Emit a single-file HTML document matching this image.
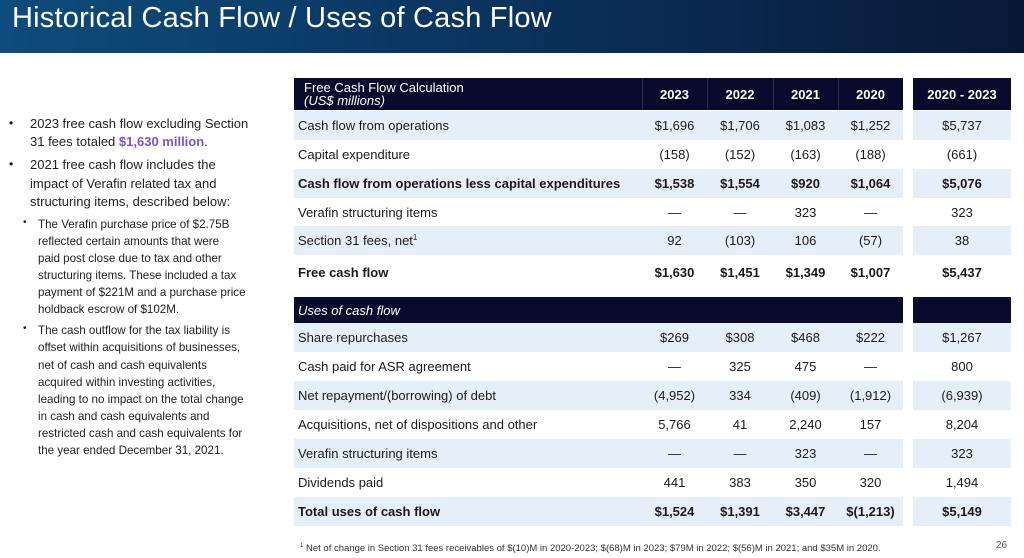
<!DOCTYPE html>
<html><head><meta charset="utf-8">
<style>
*{margin:0;padding:0;box-sizing:border-box}
body{width:1024px;height:558px;position:relative;background:#fff;font-family:"Liberation Sans",sans-serif;color:#1a1a1a;overflow:hidden}
.hdr{position:absolute;left:0;top:0;width:1024px;height:53px;background:linear-gradient(90deg,#0d4c7c 0%,#0a3560 45%,#0a1838 100%)}
.hdr h1{position:absolute;left:12px;top:2px;font-weight:normal;font-size:29px;color:#fff;letter-spacing:0.2px}
.l1,.l2{position:absolute;white-space:nowrap;color:#222}
.l1{left:30px;font-size:13px}
.l2{left:38px;font-size:11.6px}
.dot{position:absolute;font-size:12px}
.row{position:absolute;left:294px;width:717px;height:29px;font-size:13px}
.row .bg1{position:absolute;left:0;top:0;width:609px;height:100%}
.row .bg2{position:absolute;left:619px;top:0;width:98px;height:100%}
.sh .bg1,.sh .bg2{background:#e5effa}
.dk .bg1,.dk .bg2{background:#0a0b2c}
.c{position:absolute;top:0;height:100%;display:flex;align-items:center;justify-content:center;white-space:nowrap}
.lab{left:4px;justify-content:flex-start}
.b{font-weight:bold}
.v0{left:348px;width:65px}.v1{left:413px;width:66px}.v2{left:479px;width:65px}.v3{left:544px;width:65px}.v4{left:619px;width:98px}
.dk .c{color:#fff}
.sep{position:absolute;top:0;width:1px;height:100%;background:#2a2c50}
</style></head><body>
<div class="hdr"><h1>Historical Cash Flow / Uses of Cash Flow</h1></div>

<div>
<span class="dot" style="left:9px;top:116px">•</span>
<div class="l1" style="top:116px">2023 free cash flow excluding Section</div>
<div class="l1" style="top:134px">31 fees totaled <b style="color:#7b52e0">$1,630 million</b>.</div>
<span class="dot" style="left:9px;top:157px">•</span>
<div class="l1" style="top:157px">2021 free cash flow includes the</div>
<div class="l1" style="top:176px">impact of Verafin related tax and</div>
<div class="l1" style="top:194px">structuring items, described below:</div>
<span class="dot" style="left:23px;top:217px;font-size:10px">•</span>
<div class="l2" style="top:218px">The Verafin purchase price of $2.75B</div>
<div class="l2" style="top:235px">reflected certain amounts that were</div>
<div class="l2" style="top:252px">paid post close due to tax and other</div>
<div class="l2" style="top:269px">structuring items. These included a tax</div>
<div class="l2" style="top:286px">payment of $221M and a purchase price</div>
<div class="l2" style="top:303px">holdback escrow of $102M.</div>
<span class="dot" style="left:23px;top:323px;font-size:10px">•</span>
<div class="l2" style="top:324px">The cash outflow for the tax liability is</div>
<div class="l2" style="top:341px">offset within acquisitions of businesses,</div>
<div class="l2" style="top:359px">net of cash and cash equivalents</div>
<div class="l2" style="top:376px">acquired within investing activities,</div>
<div class="l2" style="top:393px">leading to no impact on the total change</div>
<div class="l2" style="top:410px">in cash and cash equivalents and</div>
<div class="l2" style="top:427px">restricted cash and cash equivalents for</div>
<div class="l2" style="top:444px">the year ended December 31, 2021.</div>
</div>

<div class="row dk" style="top:78px;height:32px"><div class="bg1"></div><div class="bg2"></div>
<div class="sep" style="left:348px"></div><div class="sep" style="left:413px"></div><div class="sep" style="left:479px"></div><div class="sep" style="left:544px"></div>
<div class="c lab" style="flex-direction:column;align-items:flex-start;justify-content:center;line-height:13px;left:10px">Free Cash Flow Calculation<i>(US$ millions)</i></div>
<div class="c v0 b">2023</div><div class="c v1 b">2022</div><div class="c v2 b">2021</div><div class="c v3 b">2020</div><div class="c v4 b">2020 - 2023</div></div>

<div class="row sh" style="top:111px"><div class="bg1"></div><div class="bg2"></div><div class="c lab">Cash flow from operations</div><div class="c v0">$1,696</div><div class="c v1">$1,706</div><div class="c v2">$1,083</div><div class="c v3">$1,252</div><div class="c v4">$5,737</div></div>
<div class="row" style="top:140px"><div class="c lab">Capital expenditure</div><div class="c v0">(158)</div><div class="c v1">(152)</div><div class="c v2">(163)</div><div class="c v3">(188)</div><div class="c v4">(661)</div></div>
<div class="row sh b" style="top:169px"><div class="bg1"></div><div class="bg2"></div><div class="c lab">Cash flow from operations less capital expenditures</div><div class="c v0">$1,538</div><div class="c v1">$1,554</div><div class="c v2">$920</div><div class="c v3">$1,064</div><div class="c v4">$5,076</div></div>
<div class="row" style="top:198px"><div class="c lab">Verafin structuring items</div><div class="c v0">—</div><div class="c v1">—</div><div class="c v2">323</div><div class="c v3">—</div><div class="c v4">323</div></div>
<div class="row sh" style="top:226px"><div class="bg1"></div><div class="bg2"></div><div class="c lab">Section 31 fees, net<sup style="font-size:8px;margin-top:-6px">1</sup></div><div class="c v0">92</div><div class="c v1">(103)</div><div class="c v2">106</div><div class="c v3">(57)</div><div class="c v4">38</div></div>
<div class="row b" style="top:257px;height:31px"><div class="c lab">Free cash flow</div><div class="c v0">$1,630</div><div class="c v1">$1,451</div><div class="c v2">$1,349</div><div class="c v3">$1,007</div><div class="c v4">$5,437</div></div>

<div class="row dk" style="top:297px;height:26px"><div class="bg1"></div><div class="bg2"></div><div class="c lab"><i>Uses of cash flow</i></div></div>
<div class="row sh" style="top:323px"><div class="bg1"></div><div class="bg2"></div><div class="c lab">Share repurchases</div><div class="c v0">$269</div><div class="c v1">$308</div><div class="c v2">$468</div><div class="c v3">$222</div><div class="c v4">$1,267</div></div>
<div class="row" style="top:352px"><div class="c lab">Cash paid for ASR agreement</div><div class="c v0">—</div><div class="c v1">325</div><div class="c v2">475</div><div class="c v3">—</div><div class="c v4">800</div></div>
<div class="row sh" style="top:381px"><div class="bg1"></div><div class="bg2"></div><div class="c lab">Net repayment/(borrowing) of debt</div><div class="c v0">(4,952)</div><div class="c v1">334</div><div class="c v2">(409)</div><div class="c v3">(1,912)</div><div class="c v4">(6,939)</div></div>
<div class="row" style="top:410px"><div class="c lab">Acquisitions, net of dispositions and other</div><div class="c v0">5,766</div><div class="c v1">41</div><div class="c v2">2,240</div><div class="c v3">157</div><div class="c v4">8,204</div></div>
<div class="row sh" style="top:439px"><div class="bg1"></div><div class="bg2"></div><div class="c lab">Verafin structuring items</div><div class="c v0">—</div><div class="c v1">—</div><div class="c v2">323</div><div class="c v3">—</div><div class="c v4">323</div></div>
<div class="row" style="top:468px"><div class="c lab">Dividends paid</div><div class="c v0">441</div><div class="c v1">383</div><div class="c v2">350</div><div class="c v3">320</div><div class="c v4">1,494</div></div>
<div class="row sh b" style="top:497px"><div class="bg1"></div><div class="bg2"></div><div class="c lab">Total uses of cash flow</div><div class="c v0">$1,524</div><div class="c v1">$1,391</div><div class="c v2">$3,447</div><div class="c v3">$(1,213)</div><div class="c v4">$5,149</div></div>

<div style="position:absolute;left:300px;top:543px;font-size:9.5px;white-space:nowrap;color:#333"><sup style="font-size:6px">1</sup> Net of change in Section 31 fees receivables of $(10)M in 2020-2023; $(68)M in 2023;  $79M in 2022; $(56)M in 2021; and $35M in 2020.</div>
<div style="position:absolute;left:996px;top:540px;font-size:10px;color:#555">26</div>
</body></html>
